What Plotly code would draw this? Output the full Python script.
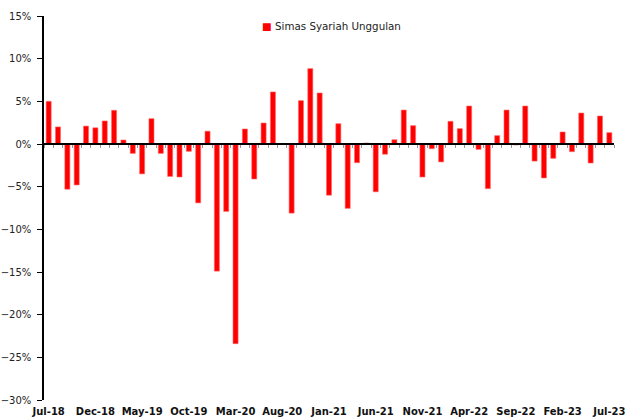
import plotly.graph_objects as go

months = ["Jan", "Feb", "Mar", "Apr", "May", "Jun", "Jul", "Aug", "Sep", "Oct", "Nov", "Dec"]
categories = []
y, m = 2018, 6
for _ in range(61):
    categories.append(f"{months[m]}-{str(y)[2:]}")
    m += 1
    if m == 12:
        m = 0
        y += 1

values = [5.0, 2.0, -5.3, -4.8, 2.1, 1.9, 2.7, 3.95, 0.47, -1.1,
          -3.5, 2.97, -1.1, -3.8, -3.87, -0.86, -6.9, 1.5, -14.9, -7.9,
          -23.4, 1.76, -4.1, 2.46, 6.1, 0.0, -8.1, 5.08, 8.83, 5.98,
          -6.0, 2.38, -7.54, -2.19, 0.12, -5.6, -1.2, 0.5, 3.98, 2.15,
          -3.87, -0.55, -2.1, 2.66, 1.8, 4.45, -0.63, -5.23, 0.98, 3.98,
          -0.12, 4.45, -2.0, -3.98, -1.68, 1.41, -0.9, 3.63, -2.23, 3.28,
          1.33]
values = [v / 100 for v in values]

tick_labels = categories[::5]
series_name = "Simas Syariah Unggulan"

font_family = "DejaVu Sans"

fig = go.Figure()
fig.add_trace(go.Bar(
    x=categories, y=values, name=series_name,
    marker=dict(color="#FF0000", line=dict(width=0.6, color="#FF6666")),
    xaxis="x", yaxis="y", showlegend=False,
))
fig.add_trace(go.Scatter(
    x=categories, y=values, mode="markers", marker=dict(opacity=0),
    showlegend=False, hoverinfo="skip", xaxis="x2", yaxis="y",
))

fig.add_annotation(
    xref="paper", yref="paper", x=0.379, y=0.974, xanchor="left", yanchor="middle",
    text=f"<span style='color:#FF0000'>■</span> {series_name}",
    showarrow=False, font=dict(family=font_family, size=10.3, color="#222"),
)

fig.update_layout(
    width=626, height=419,
    margin=dict(l=44, r=12, t=16, b=19, autoexpand=False),
    paper_bgcolor="white", plot_bgcolor="white",
    font=dict(family=font_family, size=10, color="#222"),
    bargap=0.46,
    showlegend=False,
    xaxis=dict(
        type="category", categoryorder="array", categoryarray=categories,
        range=[-0.5, 60.5], automargin=False,
        tickmode="array", tickvals=tick_labels, ticktext=tick_labels,
        showline=False, ticks="", showgrid=False, zeroline=False,
        tickfont=dict(family=font_family, size=10, color="#111", weight="bold"),
        ticklabelstandoff=4,
    ),
    xaxis2=dict(
        type="category", categoryorder="array", categoryarray=categories,
        range=[-0.5, 60.5], automargin=False,
        overlaying="x", anchor="free", position=30 / 45, side="bottom",
        showline=True, linecolor="black", linewidth=1.5,
        ticks="outside", tickson="boundaries", ticklen=3, tickcolor="#999999", tickwidth=1,
        showticklabels=False, showgrid=False, zeroline=False, dtick=1,
    ),
    yaxis=dict(
        range=[-0.30, 0.15], dtick=0.05, tickformat=".0%", automargin=False,
        showline=True, linecolor="black", linewidth=1.5,
        ticks="outside", ticklen=5, tickcolor="black",
        showgrid=False, zeroline=False,
        tickfont=dict(family=font_family, size=10, color="#222"),
        ticklabelstandoff=4,
    ),
)

fig.write_html("out.html", config={"displayModeBar": False},
               post_script="document.body.style.margin='0';")
